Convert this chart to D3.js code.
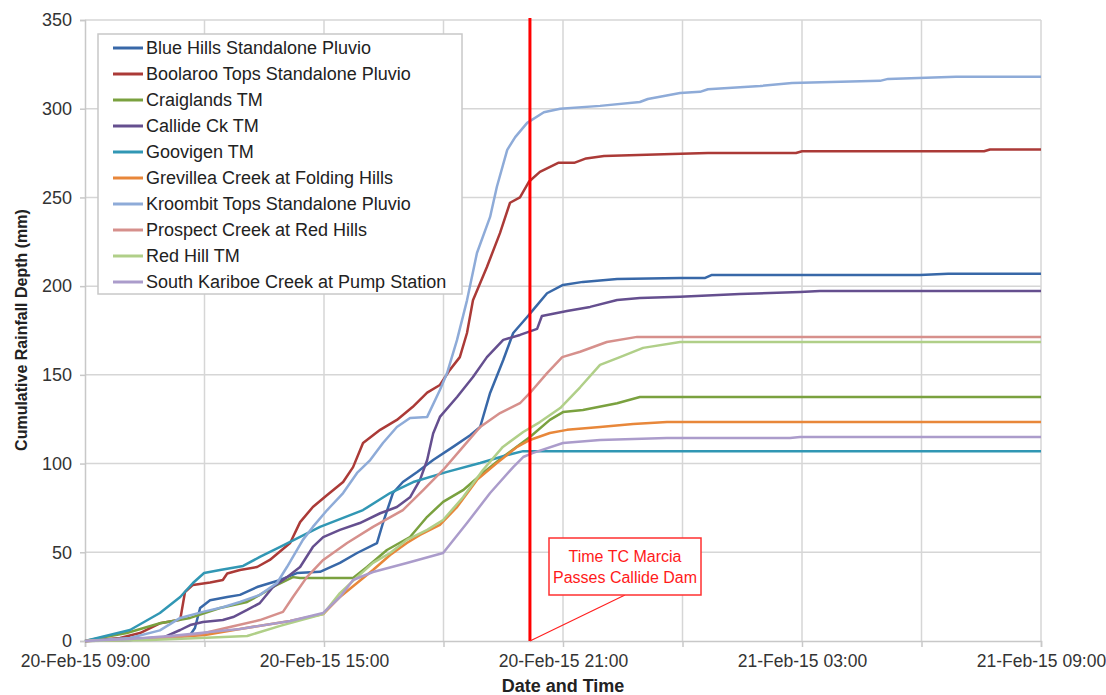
<!DOCTYPE html>
<html>
<head>
<meta charset="utf-8">
<script src="https://cdn.jsdelivr.net/npm/d3@7"></script>
<style>
  body { margin: 0; background: #fff; }
  svg text { font-family: Arial, "Liberation Sans", sans-serif; }
</style>
</head>
<body>
<svg id="chart" width="1106" height="695"></svg>
<script>
// Cumulative rainfall, 20-Feb-15 09:00 to 21-Feb-15 09:00.
// Each series: [hours after 09:00, cumulative depth in mm]
const blueHills = [[0,0],[1.13,1.1],[2.13,2.3],[2.64,3.4],[2.76,7.3],[2.89,18.6],[3.14,23],[3.57,24.8],[3.89,26],[4.32,30.4],[4.9,34.4],[5.32,38.3],[5.9,39],[6.4,44],[6.83,49.6],[7.33,55.2],[7.48,66.5],[7.73,83.4],[7.98,89.6],[8.34,95.3],[8.74,102],[9.24,109.4],[9.67,116],[9.92,120.6],[10.17,139.8],[10.5,158.4],[10.75,173.6],[11.1,182.6],[11.25,186.6],[11.6,196],[12.0,200.7],[12.5,202.4],[13.36,204],[14.94,204.6],[15.57,204.6],[15.74,206.3],[20.96,206.3],[21.67,207],[24,207]];
const boolarooTops = [[0,0],[0.88,1.7],[1.38,4.5],[1.88,10],[2.39,12],[2.51,27.6],[2.71,31.6],[3.14,33],[3.46,34.4],[3.57,38],[3.89,40],[4.32,41.7],[4.64,45.7],[5.15,55.2],[5.4,67],[5.72,75.5],[6.08,82.3],[6.48,89.6],[6.73,98],[6.98,111.6],[7.41,119],[7.83,124.6],[8.23,132],[8.59,140],[8.91,144.3],[9.16,152.8],[9.41,160],[9.59,173.6],[9.74,192],[10.09,210.8],[10.42,230],[10.67,247],[10.92,250],[11.15,259],[11.42,264.4],[11.88,269.5],[12.28,269.5],[12.58,272],[13.03,273.4],[14.74,274.5],[15.64,275],[17.85,275],[18.0,276],[22.57,276],[22.72,277],[24,277]];
const craiglands = [[0,0],[0.5,2.3],[1.05,4.5],[1.88,10],[2.64,13],[3.39,18.6],[4.07,22],[4.39,26],[4.77,31],[5.22,36],[5.4,35.5],[6.73,35.5],[7.08,41.7],[7.58,51.3],[8.16,58.6],[8.59,70],[8.99,78.4],[9.49,85],[9.99,94.7],[10.49,103.7],[11.17,115],[11.67,124.6],[12.0,129],[12.5,130.2],[13.36,134],[13.93,137.5],[24,137.5]];
const callideCk = [[0,0],[1.13,0.6],[2.0,2.3],[2.39,6.2],[2.64,9],[2.96,10.7],[3.46,11.8],[3.72,13.5],[4.07,17.5],[4.39,21.4],[4.72,30.4],[5.07,36],[5.4,41.7],[5.72,53],[5.98,58.6],[6.4,62.6],[6.9,66.5],[7.41,72],[7.83,75.5],[8.16,81],[8.41,90.8],[8.59,102],[8.74,117],[8.91,126.3],[9.34,137.5],[9.74,148.8],[10.09,160],[10.5,169.7],[10.92,172.5],[11.35,175.9],[11.47,183.2],[12.1,186],[12.68,188.3],[13.36,192.2],[13.93,193.3],[14.94,194],[16.44,195.6],[17.95,196.7],[18.45,197.3],[24,197.3]];
const goovigen = [[0,0],[1.13,6.2],[1.88,15.8],[2.39,24.8],[2.71,32.7],[2.99,38.3],[3.39,40],[3.97,42.3],[4.39,47.4],[4.9,53],[5.9,64.3],[6.98,73.8],[7.66,83.4],[8.24,89.6],[9.09,95.3],[9.92,100.3],[10.6,104.8],[11.0,107],[24,107]];
const grevilleaCreek = [[0,0],[2.0,1.7],[3.01,3.4],[3.89,6.8],[5.15,11.3],[5.98,15.2],[6.4,24.8],[6.83,32.7],[7.23,40],[7.66,48.5],[8.08,55.2],[8.41,59.8],[8.91,65.4],[9.34,75.5],[9.84,90.8],[10.34,100.3],[10.85,109.4],[11.17,113.3],[11.67,117.2],[12.1,119],[12.93,120.6],[13.76,122.3],[14.61,123.4],[24,123.4]];
const kroombitTops = [[0,0],[1.13,1.7],[1.88,6],[2.39,13],[2.96,16.4],[3.46,19],[3.89,22],[4.39,26],[4.82,32.7],[5.07,41.7],[5.47,57],[5.72,64.3],[6.08,73.8],[6.48,83.4],[6.83,94.7],[7.16,102],[7.48,111.6],[7.83,120.6],[8.16,125.7],[8.59,126.3],[8.91,141.5],[9.09,151],[9.34,169.7],[9.59,192],[9.84,218.7],[10.17,239],[10.34,256],[10.6,276.8],[10.8,284],[11.1,292],[11.52,298],[11.93,300],[12.93,301.6],[13.93,303.8],[14.13,305.5],[14.94,308.9],[15.44,309.5],[15.64,311],[16.95,312.8],[17.75,314.5],[19.96,315.7],[20.16,316.8],[21.87,318],[24,318]];
const prospectCreek = [[0,0],[1.63,1.1],[2.89,3.9],[3.64,7.9],[4.39,11.8],[4.97,16.4],[5.22,24.8],[5.57,36],[5.98,45.7],[6.58,55.2],[7.23,64.3],[7.98,73.8],[8.49,85],[8.99,96.4],[9.49,109.4],[9.92,120.6],[10.42,128.5],[10.92,134],[11.17,139.8],[11.6,151],[11.98,160],[12.43,163],[13.1,168.5],[13.86,171.4],[24,171.4]];
const redHill = [[0,0],[1.63,0.6],[2.89,1.7],[4.07,2.8],[4.9,8.5],[5.98,15.2],[6.4,27],[6.83,36],[7.23,44],[7.66,49.6],[8.08,57],[8.59,62.6],[8.99,68.2],[9.49,81],[9.99,96.4],[10.49,109.4],[11.0,117.8],[11.42,123.4],[11.93,131.3],[12.43,143],[12.93,155.6],[13.43,160],[14.01,165.2],[14.94,168.5],[24,168.5]];
const southKariboe = [[0,0],[1.13,1.1],[2.13,2.8],[2.89,4.5],[3.89,6.8],[5.15,11.3],[5.98,15.8],[6.4,24.8],[6.73,34.4],[7.23,38.9],[8.08,44],[8.99,49.6],[9.59,66.5],[10.17,83.4],[10.75,98],[11.0,103.7],[11.25,106],[12.0,111.6],[12.93,113.3],[14.61,114.4],[17.7,114.4],[17.95,115],[24,115]];

const seriesNames = [
  "Blue Hills Standalone Pluvio",
  "Boolaroo Tops Standalone Pluvio",
  "Craiglands TM",
  "Callide Ck TM",
  "Goovigen TM",
  "Grevillea Creek at Folding Hills",
  "Kroombit Tops Standalone Pluvio",
  "Prospect Creek at Red Hills",
  "Red Hill TM",
  "South Kariboe Creek at Pump Station"
];
const seriesValues = [blueHills, boolarooTops, craiglands, callideCk, goovigen,
  grevilleaCreek, kroombitTops, prospectCreek, redHill, southKariboe];
const seriesColors = ["#3868a8", "#ab3a37", "#7aa13f", "#654f8f", "#3197b4",
  "#e8873a", "#8eabd8", "#d6908c", "#b0cf88", "#ab9ccb"];

const yTicks = [0, 50, 100, 150, 200, 250, 300, 350];
const xGridHours = [0, 3, 6, 9, 12, 15, 18, 21, 24];
const xLabelHours = [0, 6, 12, 18, 24];
const markerHour = 11.17; // 20-Feb-15 ~20:10
const markerText = ["Time TC Marcia", "Passes Callide Dam"];

const start = new Date(2015, 1, 20, 9, 0);
const toDate = h => new Date(start.getTime() + h * 3600e3);

const svg = d3.select("#chart");
const plotLeft = 85, plotRight = 1041, plotTop = 20, plotBottom = 641;

const x = d3.scaleTime().domain([toDate(0), toDate(24)]).range([plotLeft, plotRight]);
const y = d3.scaleLinear().domain([0, 350]).range([plotBottom, plotTop]);

const gridColor = "#d6d6d6";
const textColor = "#333";

// gridlines
svg.append("g").selectAll("line").data(yTicks.filter(d => d > 0)).join("line")
  .attr("x1", plotLeft).attr("x2", plotRight)
  .attr("y1", d => y(d)).attr("y2", d => y(d))
  .attr("stroke", gridColor).attr("stroke-width", 1.5);
svg.append("g").selectAll("line").data(xGridHours.filter(d => d > 0)).join("line")
  .attr("x1", d => x(toDate(d))).attr("x2", d => x(toDate(d)))
  .attr("y1", plotTop).attr("y2", plotBottom)
  .attr("stroke", gridColor).attr("stroke-width", 1.5);

// y axis
const yAxis = d3.axisLeft(y).tickValues(yTicks).tickSize(5).tickPadding(8);
const gy = svg.append("g").attr("transform", `translate(${plotLeft},0)`).call(yAxis);
gy.select(".domain").attr("stroke", "#c8c8c8").attr("stroke-width", 1.5);
gy.selectAll(".tick line").attr("stroke", "#c8c8c8").attr("stroke-width", 1.5);
gy.selectAll(".tick text").attr("font-size", 18).attr("fill", textColor)
  .attr("font-family", "Arial, 'Liberation Sans', sans-serif");

// x axis
const fmt = d3.timeFormat("%d-%b-%y %H:%M");
const xAxis = d3.axisBottom(x).tickValues(xGridHours.map(toDate)).tickSize(6).tickPadding(8)
  .tickFormat(d => xLabelHours.some(h => +toDate(h) === +d) ? fmt(d) : "");
const gx = svg.append("g").attr("transform", `translate(0,${plotBottom})`).call(xAxis);
gx.select(".domain").attr("stroke", "#c8c8c8").attr("stroke-width", 1.5);
gx.selectAll(".tick line").attr("stroke", "#c8c8c8").attr("stroke-width", 1.5);
gx.selectAll(".tick text").attr("font-size", 17.5).attr("fill", textColor)
  .attr("font-family", "Arial, 'Liberation Sans', sans-serif");

// axis titles
svg.append("text").attr("x", 563).attr("y", 692).attr("text-anchor", "middle")
  .attr("font-size", 18).attr("font-weight", "bold").attr("fill", "#222")
  .text("Date and Time");
svg.append("text").attr("transform", "translate(27,330) rotate(-90)")
  .attr("text-anchor", "middle").attr("font-size", 16).attr("font-weight", "bold")
  .attr("fill", "#222").text("Cumulative Rainfall Depth (mm)");

// series lines
const line = d3.line().x(d => x(toDate(d[0]))).y(d => y(d[1]));
svg.append("g").selectAll("path").data(seriesValues).join("path")
  .attr("d", line).attr("fill", "none")
  .attr("stroke", (d, i) => seriesColors[i]).attr("stroke-width", 2.5)
  .attr("stroke-linejoin", "round");

// event marker
const mx = x(toDate(markerHour));
svg.append("line").attr("x1", mx).attr("x2", mx).attr("y1", plotTop - 2).attr("y2", plotBottom)
  .attr("stroke", "#ff0000").attr("stroke-width", 3);
const box = { x: 549, y: 538, w: 152, h: 57 };
svg.append("line").attr("x1", mx).attr("y1", plotBottom)
  .attr("x2", box.x + 76).attr("y2", box.y + box.h)
  .attr("stroke", "#ff2020").attr("stroke-width", 1.2);
svg.append("rect").attr("x", box.x).attr("y", box.y).attr("width", box.w).attr("height", box.h)
  .attr("fill", "#fff").attr("stroke", "#ff3030").attr("stroke-width", 1.5);
svg.append("g").selectAll("text").data(markerText).join("text")
  .attr("x", box.x + box.w / 2).attr("y", (d, i) => box.y + 24 + i * 21)
  .attr("text-anchor", "middle").attr("font-size", 16).attr("fill", "#ff1a1a")
  .attr("font-family", "'Liberation Sans Narrow', 'Arial Narrow', sans-serif")
  .text(d => d);

// legend
const lg = svg.append("g");
lg.append("rect").attr("x", 98).attr("y", 34).attr("width", 364).attr("height", 260)
  .attr("fill", "#fff").attr("stroke", "#c8c8c8").attr("stroke-width", 1.5);
const items = lg.selectAll("g.item").data(seriesNames).join("g").attr("class", "item")
  .attr("transform", (d, i) => `translate(0,${48 + i * 26})`);
items.append("line").attr("x1", 113).attr("x2", 143).attr("y1", 0).attr("y2", 0)
  .attr("stroke", (d, i) => seriesColors[i]).attr("stroke-width", 3);
items.append("text").attr("x", 146).attr("y", 6).attr("font-size", 18)
  .attr("fill", "#222").text(d => d);
</script>
</body>
</html>
